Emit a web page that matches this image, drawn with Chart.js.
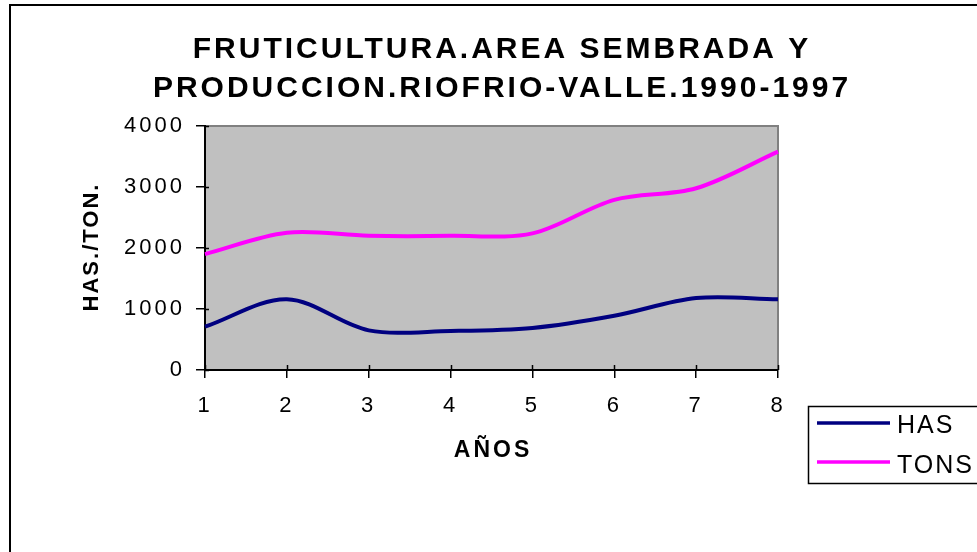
<!DOCTYPE html>
<html>
<head>
<meta charset="utf-8">
<script src="https://cdn.jsdelivr.net/npm/chart.js@4"></script>
<style>
  html, body { margin: 0; padding: 0; background: #fff; }
  #wrap { width: 977px; height: 552px; position: relative; }
</style>
</head>
<body>
<div id="wrap"><canvas id="chartCanvas"></canvas></div>
<script>
// data
const years = ['1', '2', '3', '4', '5', '6', '7', '8'];
const hasValues = [710, 1160, 650, 640, 690, 890, 1180, 1160];
const tonsValues = [1900, 2250, 2200, 2200, 2240, 2790, 2980, 3580];
const titleLines = ['FRUTICULTURA.AREA SEMBRADA Y', 'PRODUCCION.RIOFRIO-VALLE.1990-1997'];
const seriesNames = ['HAS', 'TONS'];
const seriesColors = ['#000080', '#ff00ff'];

const FONT = '"Liberation Sans", Arial, sans-serif';

// excel style frame, titles and legend
const excelFrame = {
  id: 'excelFrame',
  beforeLayout(chart) {
    chart.ctx.letterSpacing = '3px';
  },
  beforeDraw(chart) {
    const { ctx, chartArea: a } = chart;
    ctx.save();
    ctx.strokeStyle = '#000';
    ctx.lineWidth = 2;
    ctx.strokeRect(10, 5, 1000, 600); // outer border, runs off the right/bottom

    ctx.fillStyle = '#c0c0c0';
    ctx.fillRect(a.left, a.top, a.right - a.left, a.bottom - a.top);
    ctx.strokeStyle = '#808080';
    ctx.beginPath();
    ctx.moveTo(a.left, a.top);
    ctx.lineTo(a.right, a.top);
    ctx.lineTo(a.right, a.bottom);
    ctx.stroke();
    ctx.restore();
    ctx.letterSpacing = '3px';
  },
  afterDraw(chart) {
    const { ctx, chartArea: a } = chart;
    const xs = chart.scales.x, ys = chart.scales.y;
    ctx.save();

    // ticks crossing into the plot
    ctx.strokeStyle = '#000';
    ctx.lineWidth = 1.5;
    ctx.beginPath();
    ys.ticks.forEach(t => {
      const y = Math.round(ys.getPixelForValue(t.value)) + 0.5;
      ctx.moveTo(a.left, y); ctx.lineTo(a.left + 4, y);
    });
    xs.ticks.forEach((t, i) => {
      const x = Math.round(xs.getPixelForTick(i)) + 0.5;
      ctx.moveTo(x, a.bottom); ctx.lineTo(x, a.bottom - 5);
    });
    ctx.stroke();

    // title
    ctx.fillStyle = '#000';
    ctx.textAlign = 'center';
    ctx.textBaseline = 'alphabetic';
    ctx.font = `bold 30px ${FONT}`;
    ctx.letterSpacing = '3px';
    ctx.fillText(titleLines[0], 502, 58);
    ctx.fillText(titleLines[1], 502, 97);

    // axis titles
    ctx.textBaseline = 'middle';
    ctx.font = `bold 23px ${FONT}`;
    ctx.fillText('AÑOS', 493, 451);
    ctx.font = `bold 22px ${FONT}`;
    ctx.letterSpacing = '2px';
    ctx.save();
    ctx.translate(92, 248);
    ctx.rotate(-Math.PI / 2);
    ctx.fillText('HAS./TON.', 1, 0);
    ctx.restore();

    // legend
    ctx.strokeStyle = '#000';
    ctx.lineWidth = 1.5;
    ctx.strokeRect(808.5, 406.5, 200, 77);
    ctx.font = `25px ${FONT}`;
    ctx.textAlign = 'left';
    ctx.textBaseline = 'alphabetic';
    ctx.letterSpacing = '2px';
    seriesNames.forEach((name, i) => {
      const y = 423 + i * 39;
      ctx.strokeStyle = seriesColors[i];
      ctx.lineWidth = 3.5;
      ctx.beginPath();
      ctx.moveTo(817, y); ctx.lineTo(890, y);
      ctx.stroke();
      ctx.fillStyle = '#000';
      ctx.fillText(name, 897, 433 + i * 40);
    });
    ctx.restore();
  }
};

const ctx = document.getElementById('chartCanvas').getContext('2d');
new Chart(ctx, {
  type: 'line',
  data: {
    labels: years,
    datasets: [
      { label: seriesNames[0], data: hasValues, borderColor: seriesColors[0], borderWidth: 4, pointRadius: 0, tension: 0.33 },
      { label: seriesNames[1], data: tonsValues, borderColor: seriesColors[1], borderWidth: 4, pointRadius: 0, tension: 0.33 }
    ]
  },
  options: {
    responsive: true,
    maintainAspectRatio: false,
    animation: false,
    layout: { padding: { top: 126, right: 199, left: 0, bottom: 0 } },
    plugins: { legend: { display: false }, title: { display: false }, tooltip: { enabled: false } },
    scales: {
      x: {
        offset: false,
        afterFit: s => { s.height = 182; },
        border: { color: '#000', width: 2 },
        grid: { drawOnChartArea: false, color: '#000', tickLength: 8, lineWidth: 1.5 },
        ticks: { color: '#000', font: { family: FONT, size: 22 }, padding: 15, maxRotation: 0 }
      },
      y: {
        min: 0,
        max: 4000,
        afterFit: s => { s.width = 205; },
        border: { color: '#000', width: 2 },
        grid: { drawOnChartArea: false, color: '#000', tickLength: 9, lineWidth: 1.5 },
        ticks: { stepSize: 1000, color: '#000', font: { family: FONT, size: 22 }, padding: 11, callback: v => String(v) }
      }
    }
  },
  plugins: [excelFrame]
});
</script>
</body>
</html>
